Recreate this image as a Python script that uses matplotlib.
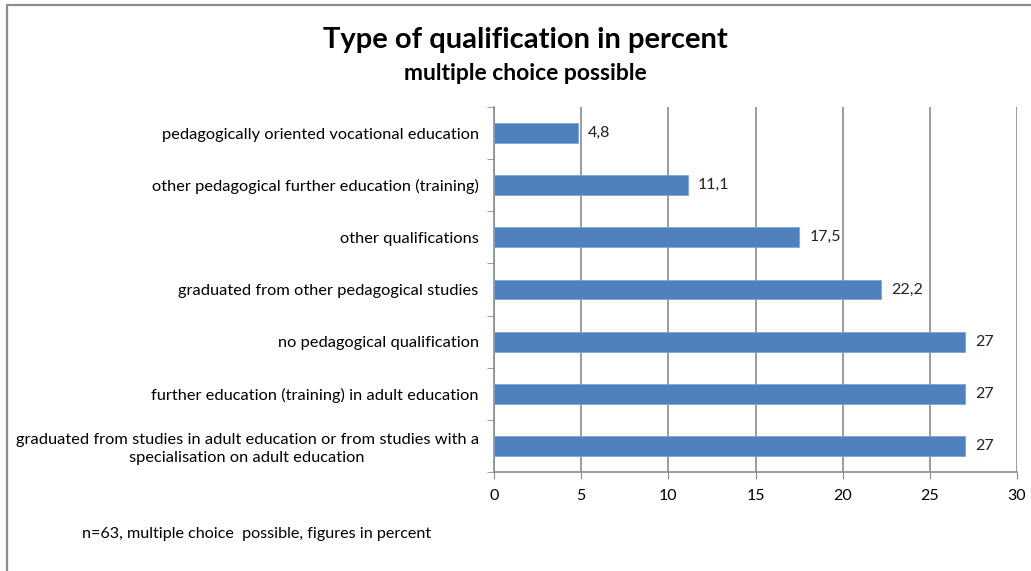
import matplotlib.pyplot as plt
from matplotlib.lines import Line2D

categories = ['graduated from studies in adult education or from studies with a\nspecialisation on adult education',
              'further education (training) in adult education',
              'no pedagogical qualification',
              'graduated from other pedagogical studies',
              'other qualifications',
              'other pedagogical further education (training)',
              'pedagogically oriented vocational education']
values = [27, 27, 27, 22.2, 17.5, 11.1, 4.8]
value_labels = ['27', '27', '27', '22,2', '17,5', '11,1', '4,8']
xticks = [0, 5, 10, 15, 20, 25, 30]

plt.rcParams['font.family'] = ['Lato', 'DejaVu Sans']

fig = plt.figure(figsize=(10.31, 5.71), dpi=100)
ax = fig.add_axes([494 / 1031, 1 - 472 / 571, (1017 - 494) / 1031, (472 - 107) / 571])

# frame around the chart area (only top and left edges visible)
fx, fy = 7 / 1031, 1 - 5 / 571
fig.lines.append(Line2D([fx, fx, 1.0], [0.0, fy, fy], transform=fig.transFigure,
                        color='#8c8c8c', linewidth=1.6))

ypos = range(len(categories))
ax.barh(ypos, values, height=0.38, color='#4f81bd', edgecolor='#7ea3d4', linewidth=0.6, zorder=3)
for i in ypos:
    ax.text(values[i] + 0.6, i, value_labels[i], fontsize=11.5, ha='left', va='center', color='#222222')

ax.set_xlim(0, 30)
ax.set_ylim(-0.5, len(categories) - 0.5)
ax.set_xticks(xticks)
ax.set_xticklabels([str(t) for t in xticks], fontsize=11.5)
ax.set_yticks(list(ypos))
ax.set_yticklabels(categories, fontsize=11.8, ha='right', multialignment='center', linespacing=1.35)
ax.tick_params(axis='y', length=0, pad=11)
ax.set_yticks([i - 0.5 for i in range(len(categories) + 1)], minor=True)
ax.tick_params(axis='y', which='minor', length=5, color='#8c8c8c')
ax.tick_params(axis='x', length=5, color='#8c8c8c', pad=7)

ax.grid(axis='x', color='#8c8c8c', linewidth=1.2, zorder=0)
for s in ['top', 'right']:
    ax.spines[s].set_visible(False)
for s in ['left', 'bottom']:
    ax.spines[s].set_color('#8c8c8c')
    ax.spines[s].set_linewidth(1.2)

fig.text(525 / 1031, 1 - 40 / 571, 'Type of qualification in percent', fontsize=21,
         fontweight='bold', ha='center', va='center')
fig.text(525 / 1031, 1 - 74 / 571, 'multiple choice possible', fontsize=16.5,
         fontweight='bold', ha='center', va='center')
fig.text(82 / 1031, 1 - 534 / 571, 'n=63, multiple choice  possible, figures in percent',
         fontsize=11.6, ha='left', va='center')

fig.savefig('out.png', dpi=100)
